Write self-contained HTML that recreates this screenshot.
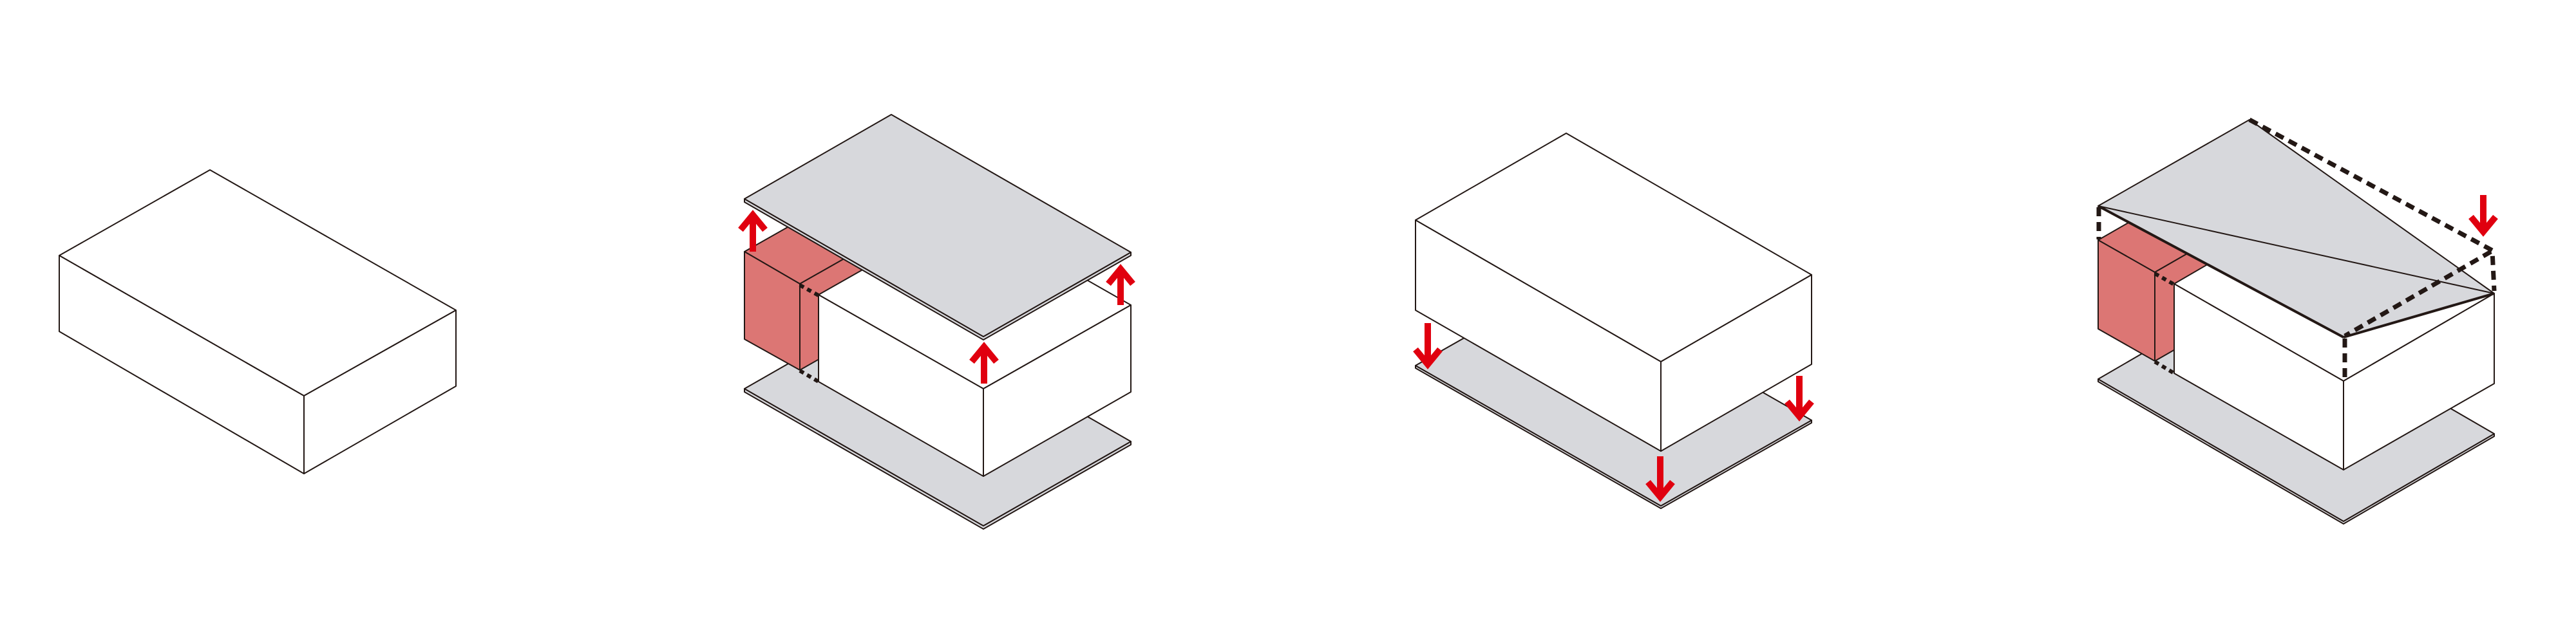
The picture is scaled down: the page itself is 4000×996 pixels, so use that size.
<!DOCTYPE html>
<html><head><meta charset="utf-8"><style>html,body{margin:0;padding:0;background:#fff}svg{display:block}</style></head>
<body>
<svg width="4000" height="996" viewBox="0 0 4000 996" xmlns="http://www.w3.org/2000/svg">
<defs>
<style>
.l{stroke:#231815;stroke-width:2;stroke-linejoin:round;fill:none}
.w{fill:#fff;stroke:#231815;stroke-width:2;stroke-linejoin:round}
.g{fill:#d7d8dc;stroke:#231815;stroke-width:2;stroke-linejoin:round}
.r{fill:#dc7674;stroke:#231815;stroke-width:2;stroke-linejoin:round}
.d{stroke:#231815;stroke-width:7;stroke-dasharray:14 9;fill:none}
.dt{stroke:#231815;stroke-width:6;stroke-dasharray:7 6;fill:none}
.a{stroke:#e0000f;stroke-width:10;fill:none;stroke-linejoin:miter;stroke-miterlimit:10}
</style>
</defs>

<!-- Box 1 -->
<polygon class="w" points="326,264 92,397 472,615 708,482"/>
<polygon class="w" points="92,397 472,615 472,736 92,515"/>
<polygon class="w" points="472,615 708,482 708,600 472,736"/>

<!-- Box 2 -->
<!-- lower slab -->
<polygon class="g" points="1156,609 1527,822 1756,691 1756,686 1527,817 1156,604"/>
<polygon class="g" points="1385,473 1156,604 1527,817 1756,686"/>
<!-- red box -->
<polygon class="r" points="1156,391 1242,441 1471,311 1385,261"/>
<polygon class="r" points="1242,441 1242,575 1471,445 1471,311"/>
<polygon class="r" points="1156,391 1242,441 1242,575 1156,527"/>
<!-- white box -->
<polygon class="w" points="1271,458 1527,604 1756,474 1500,328"/>
<polygon class="w" points="1271,458 1527,604 1527,740 1271,593"/>
<polygon class="w" points="1527,604 1756,474 1756,609 1527,740"/>
<line class="dt" x1="1242" y1="443" x2="1271" y2="459"/>
<line class="dt" x1="1242" y1="576" x2="1271" y2="593"/>
<!-- top slab -->
<polygon class="g" points="1156,314 1527,528 1756,397 1756,392 1527,523 1156,309"/>
<polygon class="g" points="1384,178 1156,309 1527,523 1756,392"/>
<!-- arrows up -->
<line class="a" x1="1169" y1="391" x2="1169" y2="336"/>
<polyline class="a" points="1150,357 1169,334 1188,357"/>
<line class="a" x1="1528" y1="596" x2="1528" y2="541"/>
<polyline class="a" points="1509,562 1528,539 1547,562"/>
<line class="a" x1="1740" y1="474" x2="1740" y2="420"/>
<polyline class="a" points="1721,441 1740,418 1759,441"/>

<!-- Box 3 -->
<polygon class="g" points="2198,572 2579,790 2813,657 2813,653 2579,786 2198,568"/>
<polygon class="g" points="2432,435 2198,568 2579,786 2813,653"/>
<polygon class="w" points="2432,207 2198,342 2579,562 2813,427"/>
<polygon class="w" points="2198,342 2579,562 2579,701 2198,482"/>
<polygon class="w" points="2579,562 2813,427 2813,566 2579,701"/>
<line class="a" x1="2217" y1="502" x2="2217" y2="562"/>
<polyline class="a" points="2198,543 2217,566 2236,543"/>
<line class="a" x1="2578" y1="709" x2="2578" y2="768"/>
<polyline class="a" points="2559,749 2578,772 2597,749"/>
<line class="a" x1="2794" y1="584" x2="2794" y2="643"/>
<polyline class="a" points="2775,624 2794,647 2813,624"/>

<!-- Box 4 -->
<polygon class="g" points="3258,593 3639,814 3873,678 3873,674 3639,810 3258,589"/>
<polygon class="g" points="3492,453 3258,589 3639,810 3873,674"/>
<!-- red box -->
<polygon class="r" points="3258,373 3346,423 3560,300 3472,250"/>
<polygon class="r" points="3346,423 3346,561 3560,438 3560,300"/>
<polygon class="r" points="3258,373 3346,423 3346,561 3258,511"/>
<!-- white box -->
<polygon class="w" points="3376,441 3639,592 3873,456 3610,305"/>
<polygon class="w" points="3376,441 3639,592 3639,730 3376,580"/>
<polygon class="w" points="3639,592 3873,456 3873,596 3639,730"/>
<line class="dt" x1="3346" y1="425" x2="3376" y2="442"/>
<line class="dt" x1="3346" y1="562" x2="3376" y2="580"/>
<!-- roof -->
<polygon class="g" points="3493,186 3258,320 3639,524 3873,456"/>
<line class="l" x1="3258" y1="320" x2="3873" y2="456"/>
<line x1="3258" y1="320" x2="3639" y2="524" stroke="#231815" stroke-width="4"/>
<line x1="3639" y1="524" x2="3873" y2="456" stroke="#231815" stroke-width="4"/>
<!-- dashed -->
<polyline class="d" points="3493,186 3870,389 3873,452"/>
<line class="d" x1="3868" y1="391" x2="3641" y2="522"/>
<line class="d" x1="3259" y1="322" x2="3259" y2="372"/>
<line class="d" x1="3641" y1="526" x2="3641" y2="590"/>
<!-- arrow -->
<line class="a" x1="3856" y1="303" x2="3856" y2="356"/>
<polyline class="a" points="3837,337 3856,360 3875,337"/>
</svg>
</body></html>
